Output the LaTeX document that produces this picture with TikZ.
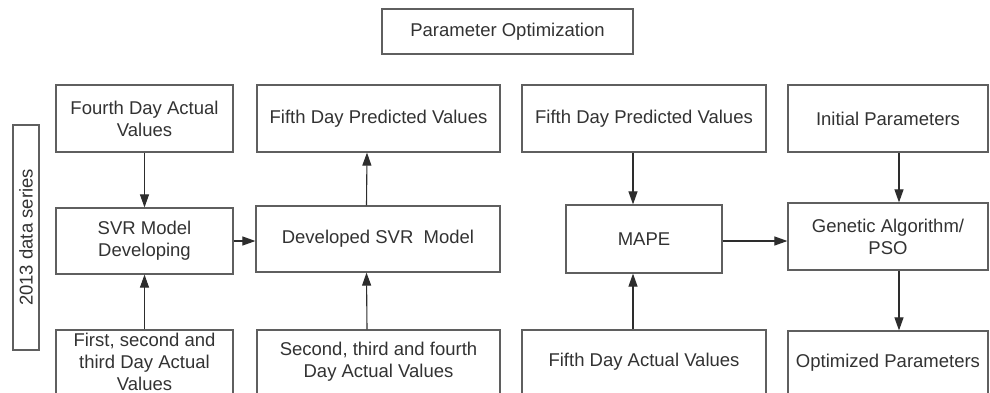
\documentclass[tikz,border=0pt]{standalone}
\usepackage{fontspec}
\setmainfont{Liberation Sans}
\usepackage{tikz}
\definecolor{lc}{RGB}{95, 95, 95}
\definecolor{ac}{RGB}{45, 45, 45}
\definecolor{tc}{RGB}{50, 50, 50}
\usetikzlibrary{positioning}
\usetikzlibrary{arrows.meta}

\begin{document}
\begin{tikzpicture}[x=1pt, y=1pt,
  every node/.style={inner sep=0pt, text=tc, font=\fontsize{18.5}{22}\selectfont},
  blk/.style={draw=lc, line width=1.2pt, align=center},
  link/.style={draw=ac, line width=1.1pt, -{Triangle[length=13pt,width=9pt]}}]
\useasboundingbox (0,0) rectangle (990,-392);
\node (par) [blk, minimum width=251pt, minimum height=45pt] at (507.5pt, -31.5pt) {Parameter Optimization};
\node (ser) [blk, rotate=90, minimum width=225pt, minimum height=26pt] at (26pt, -237.5pt) {2013 data series};
% first column
\node (1) [blk, minimum width=177pt, minimum height=67pt] at (144.5pt, -118.5pt) {Fourth Day Actual\\Values};
\node (2) [blk, minimum width=177pt, minimum height=66pt] at (144.5pt, -241pt) {SVR Model\\Developing};
\node (3) [blk, minimum width=177pt, minimum height=64pt] at (144.5pt, -362pt) {First, second and\\third Day Actual\\Values};
% second column
\node (4) [blk, minimum width=243pt, minimum height=67pt] at (378.5pt, -118.5pt) {Fifth Day Predicted Values};
\node (5) [blk, minimum width=244pt, minimum height=66pt] at (378pt, -239pt) {Developed SVR\ \ Model};
\node (6) [blk, minimum width=243pt, minimum height=64pt] at (378.5pt, -362pt) {Second, third and fourth\\Day Actual Values};
% third column
\node (7) [blk, minimum width=244pt, minimum height=67pt] at (644pt, -118.5pt) {Fifth Day Predicted Values};
\node (8) [blk, minimum width=156pt, minimum height=68pt] at (644pt, -239pt) {MAPE};
\node (9) [blk, minimum width=244pt, minimum height=64pt] at (644pt, -362pt) {Fifth Day Actual Values};
% fourth column
\node (10) [blk, minimum width=200pt, minimum height=67pt] at (888pt, -118.5pt) {Initial Parameters};
\node (11) [blk, minimum width=200pt, minimum height=67pt] at (888pt, -236.5pt) {Genetic Algorithm/\\PSO};
\node (12) [blk, minimum width=200pt, minimum height=63pt] at (888pt, -362.5pt) {Optimized Parameters};
\draw [link] (1) to (2);
\draw [link] (3) to (2);
\draw [link] (2.east) to (2.east -| 5.west);
\draw [link] ([xshift=-11.5pt]5.north) to ([xshift=-11.5pt]4.south);
\draw [link] ([xshift=-11.5pt]6.north) to ([xshift=-11.5pt]5.south);
\draw [link] ([xshift=-11pt]7.south) to ([xshift=-11pt]8.north);
\draw [link] ([xshift=-11pt]9.north) to ([xshift=-11pt]8.south);
\draw [link] ([yshift=-2pt]8.east) to ([yshift=-2pt]8.east -| 11.west);
\draw [link] ([xshift=11pt]10.south) to ([xshift=11pt]11.north);
\draw [link] ([xshift=11pt]11.south) to ([xshift=11pt]12.north);
\end{tikzpicture}
\end{document}
